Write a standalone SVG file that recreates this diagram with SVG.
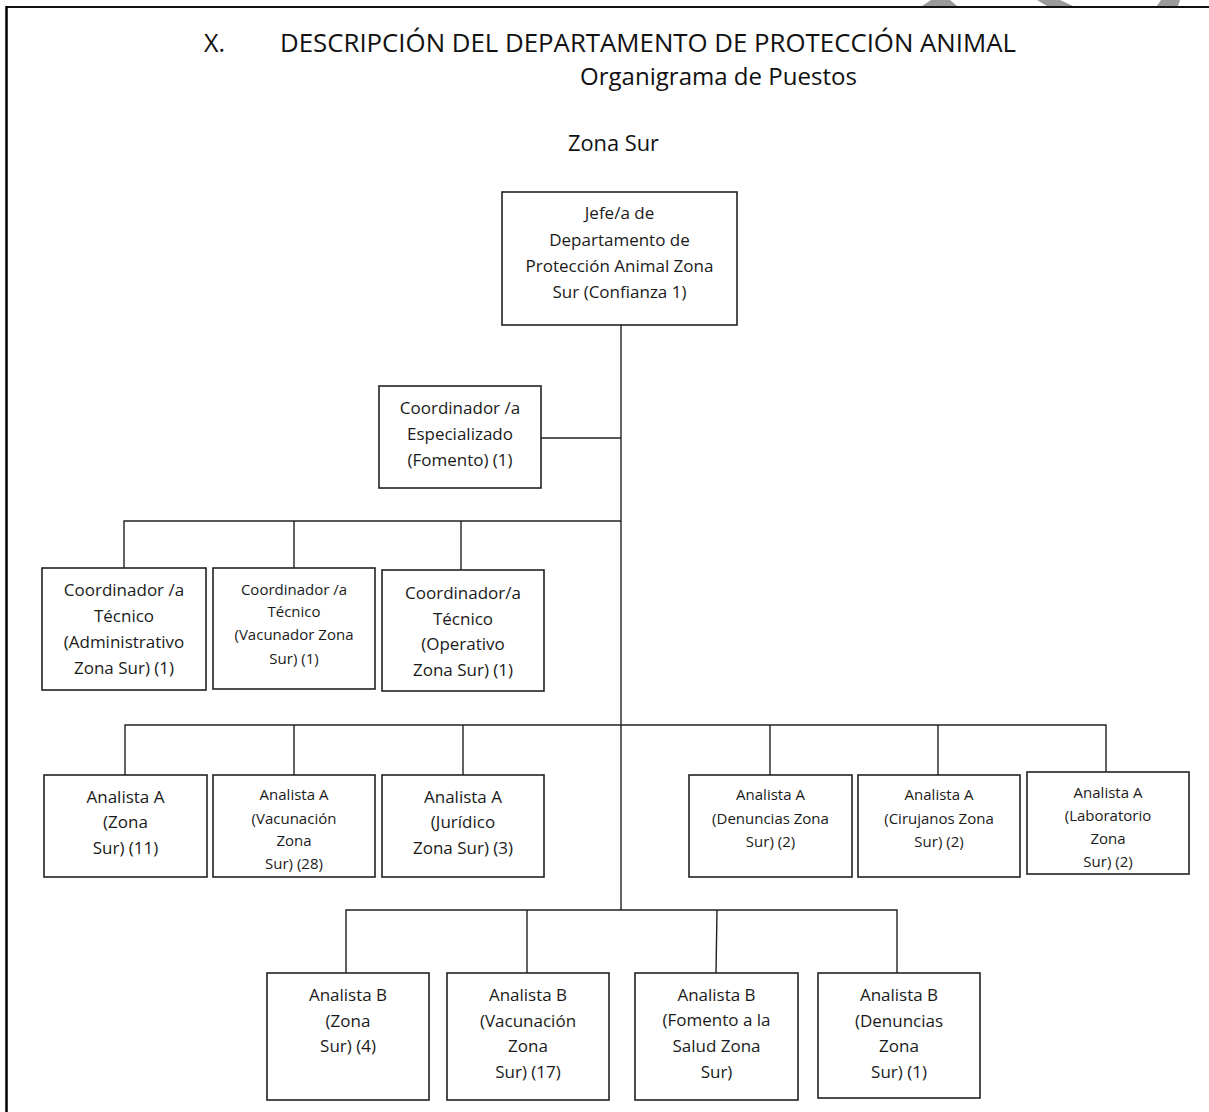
<svg xmlns="http://www.w3.org/2000/svg" width="1209" height="1112" viewBox="0 0 1209 1112">
<style>
.title{font-family:"Open Sans","Liberation Sans",sans-serif;fill:#111;}
.box{fill:#fff;stroke:#222;stroke-width:1.6;}
.t{font-family:"Open Sans","Liberation Sans",sans-serif;font-size:17px;fill:#1a1a1a;text-anchor:middle;}
.s{font-family:"Open Sans","Liberation Sans",sans-serif;font-size:15px;fill:#1a1a1a;text-anchor:middle;}
.c{stroke:#222;stroke-width:1.4;fill:none;}
.wm{fill:#9a9a9a;}
</style>
<rect x="0" y="0" width="1209" height="1112" fill="#fff"/>
<g id="watermark">
<polygon class="wm" points="922,6 931,0 950,0 957,6"/>
<polygon class="wm" points="1037,0 1060,0 1073,6 1047,6"/>
<polygon class="wm" points="1157,6 1161,0 1180,0 1178,6"/>
</g>
<g id="border">
<line x1="6" y1="7" x2="1209" y2="7" stroke="#111" stroke-width="2"/>
<line x1="6.5" y1="6" x2="6.5" y2="1112" stroke="#000" stroke-width="2.5"/>
</g>
<g id="titles">
<text class="title" x="204" y="52" font-size="25">X.</text>
<text class="title" x="280" y="52" font-size="25" textLength="736" lengthAdjust="spacingAndGlyphs">DESCRIPCIÓN DEL DEPARTAMENTO DE PROTECCIÓN ANIMAL</text>
<text class="title" x="580" y="85" font-size="23" textLength="277" lengthAdjust="spacingAndGlyphs">Organigrama de Puestos</text>
<text class="title" x="568" y="151" font-size="22" textLength="91" lengthAdjust="spacingAndGlyphs">Zona Sur</text>
</g>
<g id="connectors">
<line class="c" x1="621" y1="325" x2="621" y2="910"/>
<line class="c" x1="541" y1="438" x2="621" y2="438"/>
<polyline class="c" points="124,568 124,521 621,521"/>
<line class="c" x1="294" y1="521" x2="294" y2="568"/>
<line class="c" x1="461" y1="521" x2="461" y2="570"/>
<polyline class="c" points="125,775 125,725 1106,725 1106,772"/>
<line class="c" x1="294" y1="725" x2="294" y2="775"/>
<line class="c" x1="463" y1="725" x2="463" y2="775"/>
<line class="c" x1="770" y1="725" x2="770" y2="775"/>
<line class="c" x1="938" y1="725" x2="938" y2="775"/>
<polyline class="c" points="346,973 346,910 897,910 897,973"/>
<line class="c" x1="527" y1="910" x2="527" y2="973"/>
<line class="c" x1="717" y1="910" x2="716" y2="973"/>
</g>
<g id="jefe">
<rect class="box" x="502" y="192" width="235" height="133"/>
<text class="t" x="619.5" y="219">Jefe/a de</text>
<text class="t" x="619.5" y="246">Departamento de</text>
<text class="t" x="619.5" y="272">Protección Animal Zona</text>
<text class="t" x="619.5" y="298">Sur (Confianza 1)</text>
</g>
<g id="coord-especializado">
<rect class="box" x="379" y="386" width="162" height="102"/>
<text class="t" x="460" y="414">Coordinador /a</text>
<text class="t" x="460" y="440">Especializado</text>
<text class="t" x="460" y="466">(Fomento) (1)</text>
</g>
<g id="coord-administrativo">
<rect class="box" x="42" y="568" width="164" height="122"/>
<text class="t" x="124" y="596">Coordinador /a</text>
<text class="t" x="124" y="622">Técnico</text>
<text class="t" x="124" y="648">(Administrativo</text>
<text class="t" x="124" y="674">Zona Sur) (1)</text>
</g>
<g id="coord-vacunador">
<rect class="box" x="213" y="568" width="162" height="121"/>
<text class="s" x="294" y="595">Coordinador /a</text>
<text class="s" x="294" y="617">Técnico</text>
<text class="s" x="294" y="640">(Vacunador Zona</text>
<text class="s" x="294" y="664">Sur) (1)</text>
</g>
<g id="coord-operativo">
<rect class="box" x="382" y="570" width="162" height="121"/>
<text class="t" x="463" y="599">Coordinador/a</text>
<text class="t" x="463" y="625">Técnico</text>
<text class="t" x="463" y="650">(Operativo</text>
<text class="t" x="463" y="676">Zona Sur) (1)</text>
</g>
<g id="analista-a-zona">
<rect class="box" x="44" y="775" width="163" height="102"/>
<text class="t" x="125.5" y="803">Analista A</text>
<text class="t" x="125.5" y="828">(Zona</text>
<text class="t" x="125.5" y="854">Sur) (11)</text>
</g>
<g id="analista-a-vacunacion">
<rect class="box" x="213" y="775" width="162" height="102"/>
<text class="s" x="294" y="800">Analista A</text>
<text class="s" x="294" y="824">(Vacunación</text>
<text class="s" x="294" y="846">Zona</text>
<text class="s" x="294" y="869">Sur) (28)</text>
</g>
<g id="analista-a-juridico">
<rect class="box" x="382" y="775" width="162" height="102"/>
<text class="t" x="463" y="803">Analista A</text>
<text class="t" x="463" y="828">(Jurídico</text>
<text class="t" x="463" y="854">Zona Sur) (3)</text>
</g>
<g id="analista-a-denuncias">
<rect class="box" x="689" y="775" width="163" height="102"/>
<text class="s" x="770.5" y="800">Analista A</text>
<text class="s" x="770.5" y="824">(Denuncias Zona</text>
<text class="s" x="770.5" y="847">Sur) (2)</text>
</g>
<g id="analista-a-cirujanos">
<rect class="box" x="858" y="775" width="162" height="102"/>
<text class="s" x="939" y="800">Analista A</text>
<text class="s" x="939" y="824">(Cirujanos Zona</text>
<text class="s" x="939" y="847">Sur) (2)</text>
</g>
<g id="analista-a-laboratorio">
<rect class="box" x="1027" y="772" width="162" height="102"/>
<text class="s" x="1108" y="798">Analista A</text>
<text class="s" x="1108" y="821">(Laboratorio</text>
<text class="s" x="1108" y="844">Zona</text>
<text class="s" x="1108" y="867">Sur) (2)</text>
</g>
<g id="analista-b-zona">
<rect class="box" x="267" y="973" width="162" height="127"/>
<text class="t" x="348" y="1001">Analista B</text>
<text class="t" x="348" y="1027">(Zona</text>
<text class="t" x="348" y="1052">Sur) (4)</text>
</g>
<g id="analista-b-vacunacion">
<rect class="box" x="447" y="973" width="162" height="127"/>
<text class="t" x="528" y="1001">Analista B</text>
<text class="t" x="528" y="1027">(Vacunación</text>
<text class="t" x="528" y="1052">Zona</text>
<text class="t" x="528" y="1078">Sur) (17)</text>
</g>
<g id="analista-b-fomento">
<rect class="box" x="635" y="973" width="163" height="127"/>
<text class="t" x="716.5" y="1001">Analista B</text>
<text class="t" x="716.5" y="1026">(Fomento a la</text>
<text class="t" x="716.5" y="1052">Salud Zona</text>
<text class="t" x="716.5" y="1078">Sur)</text>
</g>
<g id="analista-b-denuncias">
<rect class="box" x="818" y="973" width="162" height="125"/>
<text class="t" x="899" y="1001">Analista B</text>
<text class="t" x="899" y="1027">(Denuncias</text>
<text class="t" x="899" y="1052">Zona</text>
<text class="t" x="899" y="1078">Sur) (1)</text>
</g>
</svg>
